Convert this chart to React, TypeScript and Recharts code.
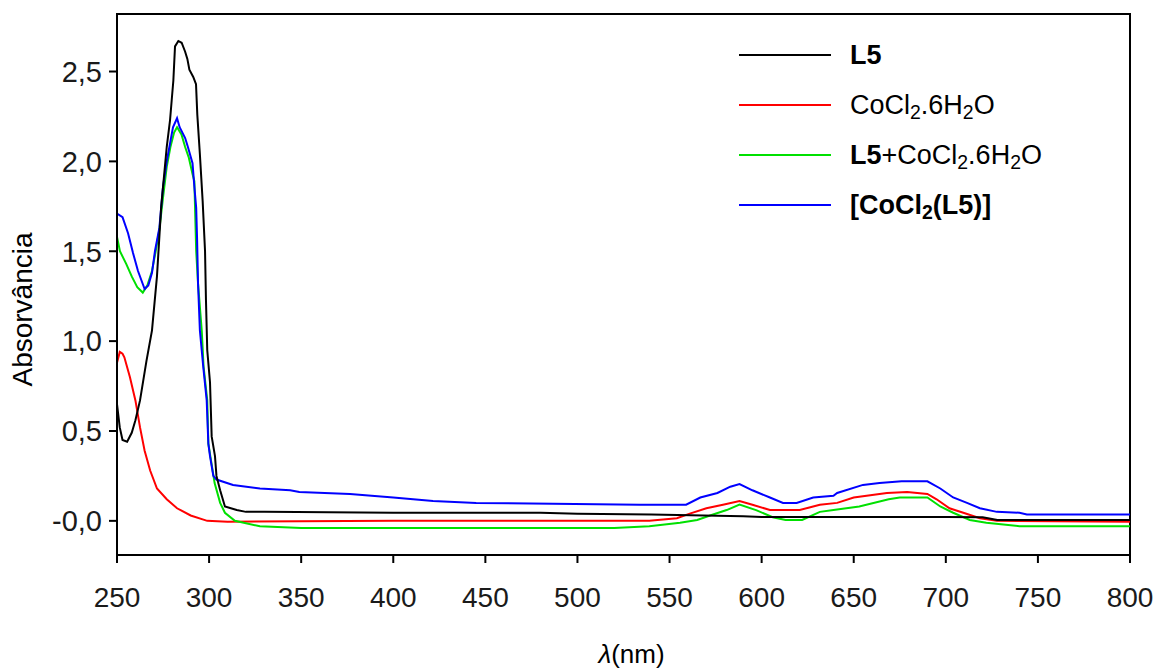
import React from 'react';
import { LineChart, Line, XAxis, YAxis, ReferenceArea, Legend, Label } from 'recharts';

// wavelength (nm) / absorbance readings per spectrum
const l5Wl = [250, 251.5, 253, 255.5, 258, 260, 262.5, 266, 269, 271.7, 274, 277, 278.8, 279.7, 280.6, 281.5, 283.3, 285.1, 287, 288.2, 289.3, 291.4, 292.9, 293.6, 295, 296.5, 297.8, 298.3, 299, 300.5, 301.4, 303.2, 304, 306, 308.6, 315, 320, 330, 400, 480, 500, 540, 590, 600, 700, 720, 728, 800];
const l5Abs = [0.65, 0.52, 0.45, 0.44, 0.49, 0.56, 0.67, 0.89, 1.06, 1.36, 1.75, 2.08, 2.23, 2.34, 2.45, 2.64, 2.67, 2.66, 2.61, 2.57, 2.51, 2.47, 2.43, 2.26, 2.04, 1.78, 1.5, 1.23, 0.95, 0.77, 0.47, 0.36, 0.25, 0.17, 0.08, 0.06, 0.05, 0.05, 0.045, 0.045, 0.04, 0.035, 0.025, 0.022, 0.022, 0.02, 0.005, 0.005];

const coWl = [250, 251.5, 253, 254, 257, 260, 262.5, 265, 268, 271.7, 277, 282.6, 290, 299, 310, 400, 539, 554, 561, 570, 579, 588, 595, 604.5, 620.7, 631.6, 641, 650, 668, 679, 690, 695, 702, 709.5, 718.5, 727.7, 800];
const coAbs = [0.88, 0.94, 0.93, 0.91, 0.8, 0.67, 0.52, 0.39, 0.28, 0.18, 0.12, 0.07, 0.03, 0.0, -0.005, 0.0, 0.0, 0.015, 0.04, 0.07, 0.09, 0.11, 0.09, 0.06, 0.06, 0.09, 0.1, 0.13, 0.155, 0.16, 0.15, 0.12, 0.07, 0.045, 0.015, 0.0, -0.005];

const mixWl = [250, 251.6, 255, 258, 261, 264, 266.5, 269, 271, 273, 275, 277, 279, 281, 282.6, 285, 287, 289, 291, 292, 293, 294, 296, 297, 299, 299.6, 301.3, 303, 306, 308.6, 314, 327.6, 350, 520, 539, 555.7, 565, 572, 581, 588, 597, 606, 613, 622, 631.6, 639, 653, 669, 675, 690, 697, 704, 713, 722, 740, 800];
const mixAbs = [1.58, 1.5, 1.43, 1.36, 1.3, 1.27, 1.31, 1.39, 1.5, 1.62, 1.8, 1.97, 2.08, 2.16, 2.19, 2.15, 2.08, 2.02, 1.93, 1.89, 1.5, 1.32, 1.06, 0.86, 0.67, 0.43, 0.32, 0.21, 0.1, 0.045, 0.0, -0.03, -0.04, -0.04, -0.03, -0.01, 0.005, 0.03, 0.06, 0.09, 0.06, 0.02, 0.005, 0.005, 0.05, 0.06, 0.08, 0.12, 0.13, 0.13, 0.08, 0.045, 0.005, -0.01, -0.03, -0.03];

const cplxWl = [250, 253, 256, 258.7, 261.4, 265, 267, 269, 270.6, 273, 275, 277, 278.8, 280.4, 282.6, 284, 287, 288.5, 291, 292, 293, 293.5, 294, 295, 296.8, 298.7, 299.6, 300.5, 302.3, 304, 313, 327.6, 344, 349, 376.5, 400, 421.6, 445, 486.7, 534, 559, 566.7, 576, 583, 588, 595, 604.5, 611.6, 619, 628, 639, 641, 655, 664, 676, 690, 697, 704, 711.5, 718.5, 727.7, 740, 744, 800];
const cplxAbs = [1.71, 1.69, 1.6, 1.49, 1.39, 1.29, 1.31, 1.38, 1.5, 1.63, 1.86, 2.0, 2.1, 2.19, 2.24, 2.19, 2.13, 2.08, 1.99, 1.86, 1.74, 1.56, 1.32, 1.06, 0.86, 0.67, 0.43, 0.36, 0.25, 0.23, 0.2, 0.18, 0.17, 0.16, 0.15, 0.13, 0.11, 0.1, 0.095, 0.09, 0.09, 0.13, 0.155, 0.19, 0.205, 0.17, 0.13, 0.1, 0.1, 0.13, 0.14, 0.155, 0.2, 0.21, 0.22, 0.22, 0.18, 0.13, 0.1, 0.07, 0.05, 0.045, 0.035, 0.035];

const xTicks = [250, 300, 350, 400, 450, 500, 550, 600, 650, 700, 750, 800];
const yTicks = [0, 0.5, 1, 1.5, 2, 2.5];

const font = '"Liberation Sans", Arial, sans-serif';

const toPoints = (wl: number[], abs: number[]) => wl.map((w, i) => ({ wl: w, abs: abs[i] }));

const sub = (t: string) => (
  <span style={{ fontSize: '0.72em', position: 'relative', top: '0.28em' }}>{t}</span>
);

// legend order as in the figure
const legendItems = [
  { color: '#000000', label: <b>L5</b> },
  { color: '#ff0000', label: <span>CoCl{sub('2')}.6H{sub('2')}O</span> },
  { color: '#00e000', label: <span><b>L5</b>+CoCl{sub('2')}.6H{sub('2')}O</span> },
  { color: '#0000ff', label: <b>[CoCl{sub('2')}(L5)]</b> },
];

const renderLegend = () => (
  <div style={{ fontFamily: font, fontSize: 27, color: '#000' }}>
    {legendItems.map((it, i) => (
      <div key={i} style={{ display: 'flex', alignItems: 'center', height: 50 }}>
        <svg width={92} height={4} style={{ marginRight: 19 }}>
          <line x1={0} y1={2} x2={92} y2={2} stroke={it.color} strokeWidth={2} />
        </svg>
        <span style={{ lineHeight: 1, whiteSpace: 'nowrap' }}>{it.label}</span>
      </div>
    ))}
  </div>
);

const fmtY = (v: number) => (v === 0 ? '-0,0' : v.toFixed(1).replace('.', ','));

export default function App() {
  return (
    <div style={{ position: 'absolute', left: 0, top: 0, background: '#fff' }}>
      <LineChart width={1154} height={669} margin={{ top: 14, right: 24, left: 0, bottom: 0 }}>
        <XAxis
          dataKey="wl"
          type="number"
          domain={[250, 800]}
          ticks={xTicks}
          allowDataOverflow
          height={114}
          tickSize={8}
          tickMargin={24}
          stroke="#000"
          strokeWidth={2}
          tick={{ fontSize: 28, fontFamily: font, fill: '#1a1a1a' }}
        >
          <Label
            content={({ viewBox }: any) => (
              <text
                x={viewBox.x + viewBox.width / 2 + 8}
                y={viewBox.y + 99}
                textAnchor="middle"
                dominantBaseline="central"
                fontSize={26}
                fontFamily={font}
                fill="#000"
              >
                <tspan fontStyle="italic">λ</tspan>(nm)
              </text>
            )}
          />
        </XAxis>
        <YAxis
          type="number"
          domain={[-0.19, 2.82]}
          ticks={yTicks}
          allowDataOverflow
          width={117}
          tickSize={8}
          tickMargin={7}
          stroke="#000"
          strokeWidth={2}
          tickFormatter={fmtY}
          tick={{ fontSize: 29, fontFamily: font, fill: '#1a1a1a' }}
        >
          <Label
            content={({ viewBox }: any) => {
              const x = viewBox.x + 22;
              const y = viewBox.y + viewBox.height / 2 + 25;
              return (
                <text
                  x={x}
                  y={y}
                  transform={`rotate(-90, ${x}, ${y})`}
                  textAnchor="middle"
                  dominantBaseline="central"
                  fontSize={28}
                  fontFamily={font}
                  fill="#000"
                >
                  Absorvância
                </text>
              );
            }}
          />
        </YAxis>
        <Legend
          layout="vertical"
          align="center"
          verticalAlign="middle"
          content={renderLegend}
          wrapperStyle={{ top: 30, left: 739, width: 380, bottom: 'auto', right: 'auto' }}
        />
        <Line data={toPoints(coWl, coAbs)} dataKey="abs" name="CoCl2.6H2O" type="linear" stroke="#ff0000" strokeWidth={2} dot={false} isAnimationActive={false} />
        <Line data={toPoints(mixWl, mixAbs)} dataKey="abs" name="L5+CoCl2.6H2O" type="linear" stroke="#00e000" strokeWidth={2} dot={false} isAnimationActive={false} />
        <Line data={toPoints(cplxWl, cplxAbs)} dataKey="abs" name="[CoCl2(L5)]" type="linear" stroke="#0000ff" strokeWidth={2} dot={false} isAnimationActive={false} />
        <Line data={toPoints(l5Wl, l5Abs)} dataKey="abs" name="L5" type="linear" stroke="#000000" strokeWidth={2} dot={false} isAnimationActive={false} />
        <ReferenceArea x1={250} x2={800} y1={-0.19} y2={2.82} fill="none" stroke="#000" strokeWidth={2} ifOverflow="visible" />
      </LineChart>
    </div>
  );
}
